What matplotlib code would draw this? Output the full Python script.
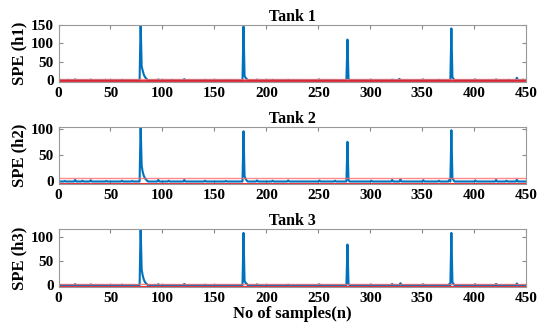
import numpy as np
import matplotlib
matplotlib.use('Agg')
import matplotlib.pyplot as plt

plt.rcParams['font.family'] = 'Liberation Serif'
plt.rcParams['font.weight'] = 'bold'

n_samples = 450
titles = ['Tank 1', 'Tank 2', 'Tank 3']
ylabels = ['SPE (h1)', 'SPE (h2)', 'SPE (h3)']

# baseline level of each SPE trace
base1 = 0.5
base2 = 0.0
base3 = 0.0

# small bumps on the baseline (sample index: value)
bumps1 = {8: 1.5, 15: 2.5, 22: 1, 30: 2, 44: 1.5, 60: 1.5, 70: 1, 95: 2.5, 108: 1.5, 120: 3.5,
          140: 1.5, 160: 1, 190: 2, 205: 1.5, 220: 1.5, 250: 2, 265: 1, 300: 1.5, 320: 2,
          327: 4, 350: 2, 365: 1.5, 400: 2, 420: 2.5, 432: 1.5, 440: 7, 446: 2}
bumps2 = {5: 1, 15: 3, 22: 1.5, 30: 2.5, 45: 1, 60: 1.5, 70: 1, 95: 3, 105: 1.5, 120: 3,
          140: 1.5, 160: 1, 190: 2, 205: 1.5, 220: 2, 250: 2, 265: 1.5, 300: 1.5, 320: 3,
          328: 4, 350: 2.5, 365: 1.5, 375: 3, 400: 2, 420: 3, 430: 1.5, 440: 3.5}
bumps3 = {15: 2, 30: 1.5, 60: 1, 95: 2, 120: 2.5, 140: 1, 190: 1.5, 220: 1, 250: 1.5,
          300: 1, 320: 2.5, 328: 4, 350: 1.5, 375: 2.5, 400: 1.5, 420: 2.5, 440: 3.5}

# fault spikes (start index: values from peak downward)
spikes1 = {78: [158, 38, 26, 16, 10, 6, 3], 177: [145, 12, 7, 4], 277: [110, 4], 377: [140, 8, 4]}
spikes2 = {78: [108, 30, 18, 11, 7, 4, 2], 177: [95, 10, 5, 2], 277: [75, 3], 377: [97, 6, 3]}
spikes3 = {78: [120, 32, 20, 12, 7, 4, 2], 177: [108, 8, 5, 3], 277: [84, 3], 377: [108, 6, 3]}

# control limits (upper, lower)
limits = [(4.5, -3), (6, -4), (2, -3)]
ylims = [(-4, 150), (-5, 103), (-4, 116)]
yticks = [[0, 50, 100, 150], [0, 50, 100], [0, 50, 100]]


def build(base, bumps, spikes):
    y = np.full(n_samples, base, dtype=float)
    for i, v in bumps.items():
        y[i] = v
    for start, vals in spikes.items():
        y[start:start + len(vals)] = vals
    return y


series = [build(base1, bumps1, spikes1), build(base2, bumps2, spikes2), build(base3, bumps3, spikes3)]
x = np.arange(1, n_samples + 1)

fig = plt.figure(figsize=(5.47, 3.3), dpi=100)
bottoms = [0.752, 0.442, 0.130]
heights = [0.173, 0.173, 0.176]

for k in range(3):
    ax = fig.add_axes([0.107, bottoms[k], 0.855, heights[k]])
    ax.plot(x, series[k], color='#0072BD', linewidth=1.5)
    ax.axhline(limits[k][0], color='#FF6B6B', linewidth=1.0, alpha=0.8)
    ax.axhline(limits[k][1], color='#E8202A', linewidth=1.3)
    ax.set_xlim(0, 450)
    ax.set_ylim(*ylims[k])
    ax.set_xticks(range(0, 451, 50))
    ax.set_yticks(yticks[k])
    ax.tick_params(labelsize=11, direction='in', length=3, color='#888888', top=True, right=True)
    for s in ax.spines.values():
        s.set_color('#999999')
        s.set_linewidth(0.8)
    ax.set_title(titles[k], fontsize=11.5, fontweight='bold', pad=3)
    ax.set_ylabel(ylabels[k], fontsize=12, fontweight='bold', labelpad=2)
    if k == 2:
        ax.set_xlabel('No of samples(n)', fontsize=12, fontweight='bold', labelpad=1)

fig.savefig('out.png', dpi=100)
